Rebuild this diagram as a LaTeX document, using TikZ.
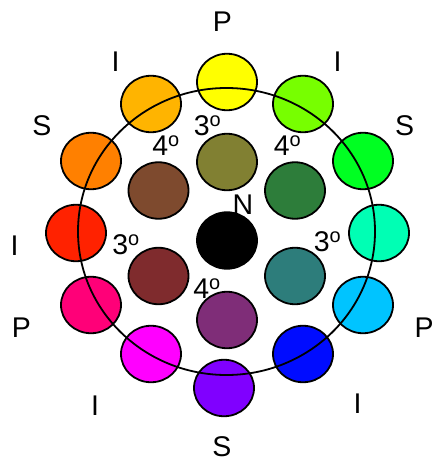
\documentclass[tikz,border=0pt]{standalone}
\usepackage{fontspec}
\setmainfont{Liberation Sans}
\usepackage{xcolor}
\usepackage{tikz}
\usetikzlibrary{shapes.geometric}
\definecolor{cwyellow}{HTML}{FFFF00}
\definecolor{cwamber}{HTML}{FFB400}
\definecolor{cwchart}{HTML}{77FF00}
\definecolor{cworange}{HTML}{FF8000}
\definecolor{cwgreen}{HTML}{00FF22}
\definecolor{cwred}{HTML}{FF2200}
\definecolor{cwspring}{HTML}{00FFB4}
\definecolor{cwrose}{HTML}{FF0078}
\definecolor{cwazure}{HTML}{00C4FF}
\definecolor{cwmagenta}{HTML}{FF00FF}
\definecolor{cwblue}{HTML}{000CFF}
\definecolor{cwviolet}{HTML}{8000FF}
\definecolor{mxolive}{HTML}{818032}
\definecolor{mxbrown}{HTML}{7E4A2E}
\definecolor{mxgreen}{HTML}{2D7D3A}
\definecolor{mxred}{HTML}{7F2B2D}
\definecolor{mxteal}{HTML}{2D7D7B}
\definecolor{mxpurple}{HTML}{7F2D78}
\tikzset{
  huedisc/.style={ellipse, draw=black, line width=1.8pt, inner sep=0pt,
    minimum width=60pt, minimum height=56.5pt},
  mixdisc/.style={huedisc},
  ringline/.style={ellipse, draw=black, line width=1.8pt, inner sep=0pt,
    minimum width=297pt, minimum height=287pt},
  lettertag/.style={font=\fontsize{28.5}{30}\selectfont, inner sep=0pt},
  degtag/.style={lettertag}
}

\begin{document}
\begin{tikzpicture}[x=1pt, y=-1pt]
    \useasboundingbox (0,0) rectangle (434,462);
    % outer wheel
    \node[huedisc, fill=cwyellow] (yel) at (227,82) {};
    \node[huedisc, fill=cwamber] (amb) at (151,104) {};
    \node[huedisc, fill=cwchart] (cha) at (303,104) {};
    \node[huedisc, fill=cworange] (ora) at (91,161) {};
    \node[huedisc, fill=cwgreen] (gre) at (363,161) {};
    \node[huedisc, fill=cwred] (red) at (76,233) {};
    \node[huedisc, fill=cwspring] (spr) at (379,233) {};
    \node[huedisc, fill=cwrose] (ros) at (91,305) {};
    \node[huedisc, fill=cwazure] (azu) at (363,305) {};
    \node[huedisc, fill=cwmagenta] (mag) at (151,354) {};
    \node[huedisc, fill=cwblue] (blu) at (303,354) {};
    \node[huedisc, fill=cwviolet] (vio) at (224,388) {};
    \node[ringline] (ring) at (226.5,231.5) {};

    % inner mixes
    \node[mixdisc, fill=mxolive] (olv) at (227,162) {};
    \node[mixdisc, fill=mxbrown] (brn) at (158.5,190.5) {};
    \node[mixdisc, fill=mxgreen] (dgr) at (295,190.5) {};
    \node[mixdisc, fill=black] (blk) at (227,240.5) {};
    \node[mixdisc, fill=mxred] (drd) at (158.5,276) {};
    \node[mixdisc, fill=mxteal] (tea) at (295,276) {};
    \node[mixdisc, fill=mxpurple] (pur) at (227,320) {};

    % labels
    \node[lettertag] (pTop) at (222.5,22) {P};
    \node[lettertag] (iTopL) at (115.5,62) {I};
    \node[lettertag] (iTopR) at (337.5,62) {I};
    \node[lettertag] (sL) at (42,126) {S};
    \node[lettertag] (sR) at (404.5,126) {S};
    \node[lettertag] (iL) at (14.5,246) {I};
    \node[lettertag] (pL) at (21.5,328) {P};
    \node[lettertag] (pR) at (424,328) {P};
    \node[lettertag] (iBotL) at (95,406) {I};
    \node[lettertag] (iBotR) at (357.5,404) {I};
    \node[lettertag] (sBot) at (222,446.5) {S};
    \node[lettertag] (nMid) at (243,205) {N};
    \node[degtag] (d3Top) at (207.5,126) {3\textsuperscript{o}};
    \node[degtag] (d4L) at (166,146) {4\textsuperscript{o}};
    \node[degtag] (d4R) at (287.5,146) {4\textsuperscript{o}};
    \node[degtag] (d3L) at (126,245) {3\textsuperscript{o}};
    \node[degtag] (d3R) at (327.5,241.5) {3\textsuperscript{o}};
    \node[degtag] (d4Bot) at (207,288.5) {4\textsuperscript{o}};
\end{tikzpicture}
\end{document}
